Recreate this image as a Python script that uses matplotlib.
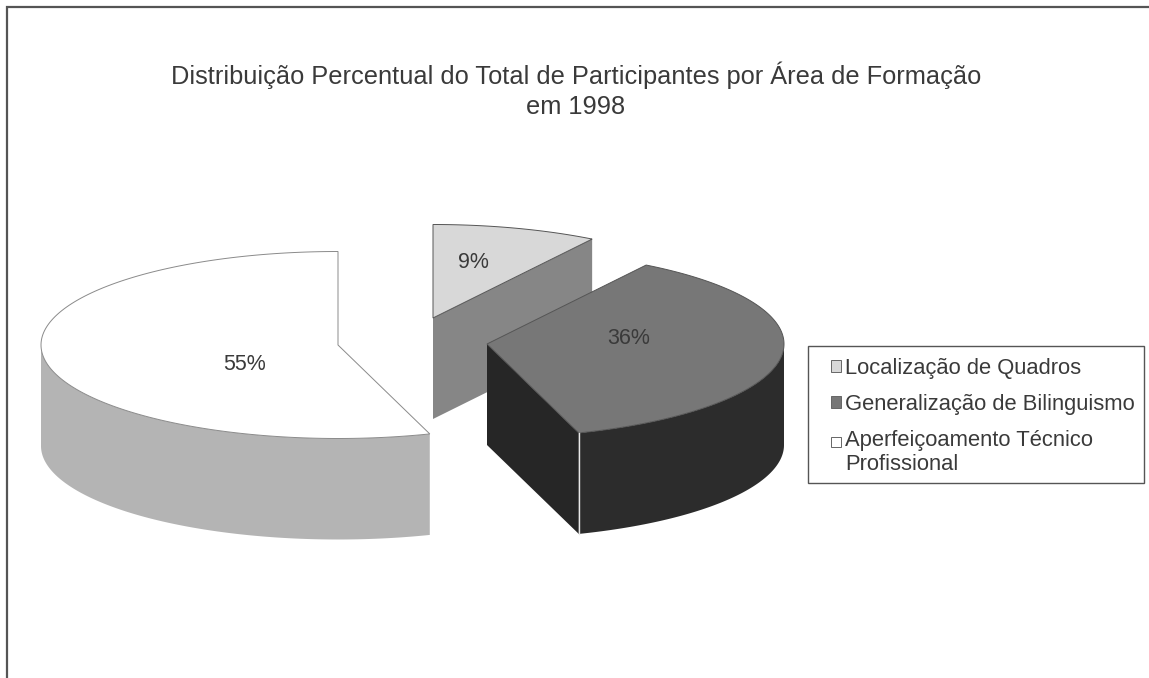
import numpy as np
import matplotlib
matplotlib.use("Agg")
import matplotlib.pyplot as plt
from matplotlib.patches import Polygon, Patch, Rectangle
from matplotlib.legend_handler import HandlerPatch

plt.rcParams['font.family'] = ['Liberation Sans', 'DejaVu Sans']

# Data
categories = ['Localização de Quadros', 'Generalização de Bilinguismo',
              'Aperfeiçoamento Técnico\nProfissional']
values = [9, 36, 55]
value_labels = ['9%', '36%', '55%']
title = 'Distribuição Percentual do Total de Participantes por Área de Formação\nem 1998'

# Style / layout (pixel canvas)
W, H = 1149, 678
RX, RY, DEPTH = 297, 93.5, 101
centres = [(433, 318), (487, 344), (338, 345)]
label_pos = [(473, 263), (629, 338), (245, 364)]
top_col = ['#d8d8d8', '#777777', '#ffffff']
side_col = ['#8a8a8a', '#2c2c2c', '#b4b4b4']
cut_col = ['#868686', '#262626', '#b4b4b4']
edge_col = ['#555555', '#555555', '#8a8a8a']
INK = '#3a3a3a'

fig = plt.figure(figsize=(W / 100, H / 100), dpi=100, facecolor='white')
ax = fig.add_axes([0, 0, 1, 1])
ax.set_xlim(0, W)
ax.set_ylim(H, 0)
ax.axis('off')

# frame: only the top and left rules survive in the scan
ax.plot([7, 7, W], [H, 7, 7], color='#555555', lw=1.6, solid_joinstyle='miter')


def rim(c, a, b, dz=0.0, n=160):
    t = np.linspace(a, b, n)
    return np.column_stack([c[0] + RX * np.sin(t), c[1] - RY * np.cos(t) + dz])


fractions = np.array(values, dtype=float) / np.sum(values)
bounds = np.concatenate([[0], np.cumsum(fractions)]) * 2 * np.pi

for i in range(len(values)):
    c, a, b = centres[i], bounds[i], bounds[i + 1]

    # cut face along the clockwise end of the slice
    end = rim(c, b, b, n=1)[0]
    if np.sin(b) > 0.01:
        ax.add_patch(Polygon([c, end, (end[0], end[1] + DEPTH), (c[0], c[1] + DEPTH)],
                             closed=True, fc=cut_col[i], ec='none', zorder=2 + i * 3))

    # front-facing outer wall
    lo, hi = max(a, np.pi / 2), min(b, 3 * np.pi / 2)
    if hi > lo:
        ax.add_patch(Polygon(np.vstack([rim(c, lo, hi), rim(c, hi, lo, DEPTH)]),
                             closed=True, fc=side_col[i], ec='none', zorder=2 + i * 3))

    # top face
    ax.add_patch(Polygon(np.vstack([[c], rim(c, a, b)]), closed=True, fc=top_col[i],
                         ec=edge_col[i], lw=0.7, zorder=3 + i * 3))

    # pale highlight on the front vertical edge of the dark slice
    if side_col[i] == '#2c2c2c':
        ax.plot([end[0], end[0]], [end[1], end[1] + DEPTH], color='#e8e8e8',
                lw=1.0, zorder=3 + i * 3)

    ax.text(label_pos[i][0], label_pos[i][1], value_labels[i], fontsize=15.5,
            color=INK, ha='center', va='center', zorder=20)

ax.text(576, 90.5, title, fontsize=18.3, color=INK, ha='center', va='center',
        linespacing=1.33, zorder=20)

# legend box
ax.add_patch(Rectangle((808, 346), 336, 137, fc='white', ec='#555555', lw=1.0, zorder=25))


def first_line_swatch(legend, orig_handle, xdescent, ydescent, width, height, fontsize):
    return Rectangle((-xdescent, -ydescent + 8.6), width, width)


handles = [Patch(fc=top_col[i], ec='#666666', lw=0.7) for i in range(len(values))]
leg = ax.legend(handles, categories, loc='upper left',
                bbox_to_anchor=(831 / W, 1 - 358 / H), bbox_transform=ax.transAxes,
                fontsize=15.8, frameon=False,
                handlelength=0.46, handleheight=0.46, handletextpad=0.2,
                labelspacing=0.68, borderpad=0, borderaxespad=0, labelcolor=INK,
                handler_map={handles[2]: HandlerPatch(patch_func=first_line_swatch)})
leg.set_zorder(30)

fig.savefig('out.png', dpi=100, facecolor='white')
